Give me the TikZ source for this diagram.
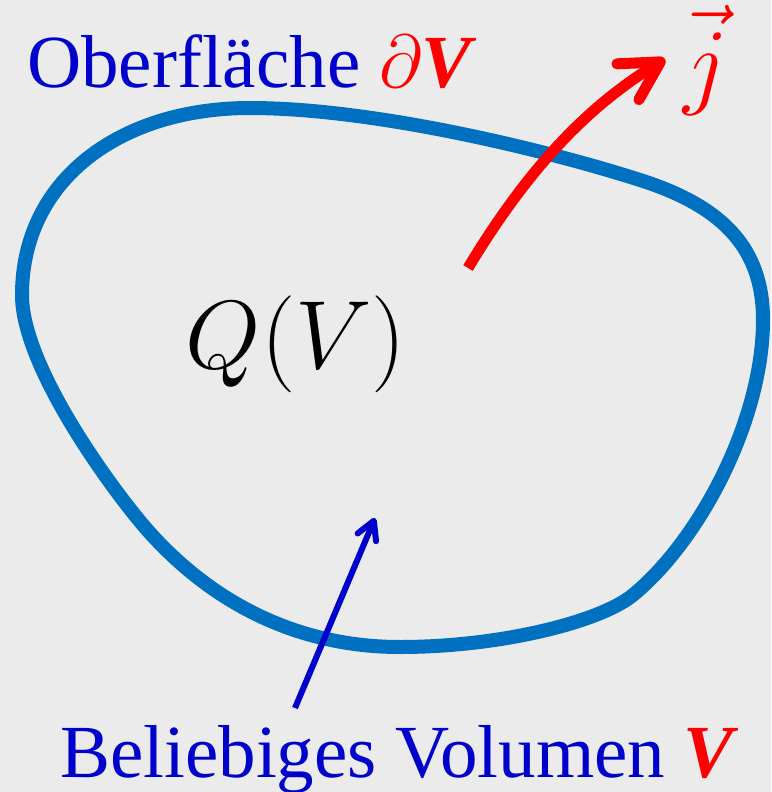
\RequirePackage{fix-cm}
\documentclass[tikz,border=0pt]{standalone}
\usepackage[no-math]{fontspec}
\setmainfont{Liberation Serif}
\usetikzlibrary{arrows.meta}
\definecolor{bg}{HTML}{EBEBEB}
\definecolor{curveblue}{HTML}{0070C0}
\definecolor{textblue}{HTML}{0000CC}
\definecolor{jred}{HTML}{FF0000}
\begin{document}
\begin{tikzpicture}[x=1pt,y=-1pt,
  bigtext/.style={inner sep=0pt, font=\fontsize{75}{80}\selectfont, text=textblue},
  mathtext/.style={inner sep=0pt, font=\fontsize{97}{100}\selectfont},
  surface/.style={draw=curveblue, line width=14pt, line join=round},
  flux/.style={draw=jred, line width=11pt, -{Straight Barb[length=38pt,width=42pt,round]}},
  pointer/.style={draw=textblue, line width=6pt, -{Straight Barb[length=18pt,width=20pt,round]}}
]
\fill[bg] (0,0) rectangle (771,792);
\useasboundingbox (0,0) rectangle (771,792);

\draw[surface] (22,295)
  .. controls (22,180) and (120,108) .. (250,108)
  .. controls (370,108) and (540,148) .. (640,180)
  .. controls (725,207) and (763,250) .. (763,320)
  .. controls (763,420) and (700,540) .. (633,595)
  .. controls (600,622) and (500,647) .. (400,647)
  .. controls (300,647) and (215,605) .. (150,533)
  .. controls (120,500) and (22,370) .. (22,295) -- cycle;

\node[bigtext, anchor=base west] (top) at (27,88) {Oberfläche \textcolor{jred}{$\partial$\bfseries\itshape V}};
\node[bigtext, anchor=base west] (bottom) at (60,777) {Beliebiges Volumen \textcolor{jred}{\bfseries\itshape V}};
\node[mathtext, anchor=base] (Q) at (296,368) {$Q(V)$};
\node[mathtext, anchor=base west, text=jred] (j) at (683,96) {$\vec{j}$};

\coordinate (fs) at (468,268);
\coordinate (fe) at (665,59);
\draw[flux] (fs) .. controls (530,165) and (590,105) .. (fe);

\coordinate (ps) at (295,708);
\coordinate (pe) at (375,518);
\draw[pointer] (ps) -- (pe);
\end{tikzpicture}
\end{document}
